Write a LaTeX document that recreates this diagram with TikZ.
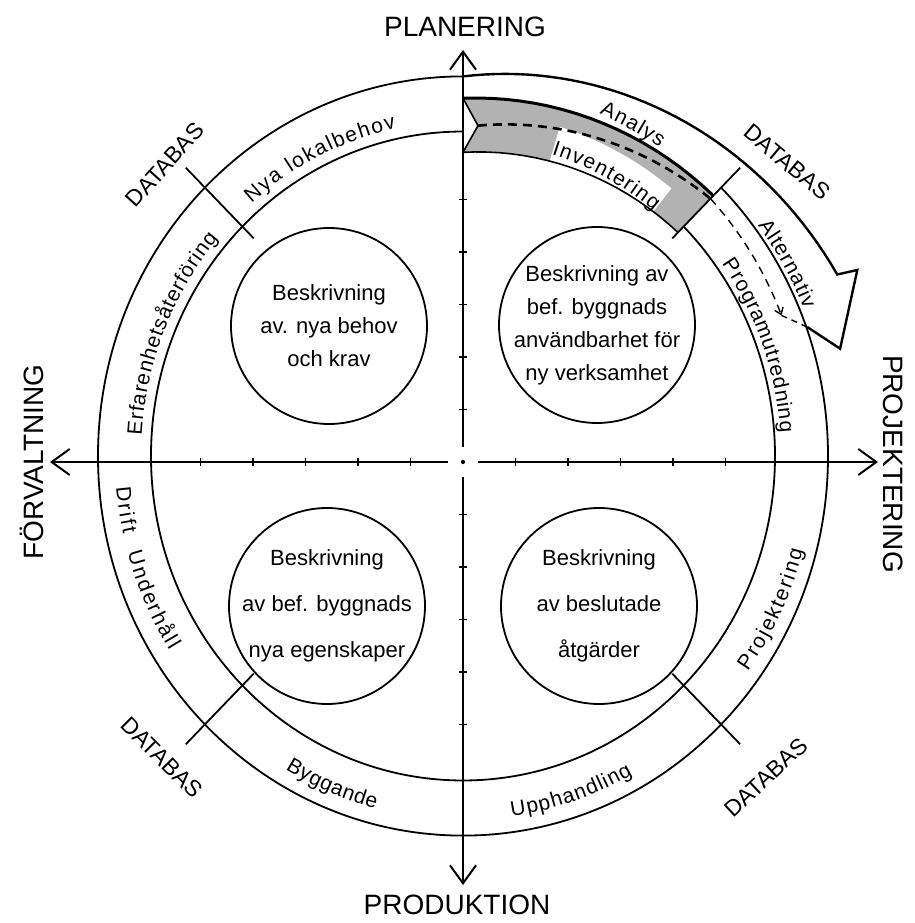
\documentclass[tikz,border=0pt]{standalone}
\usepackage{fontspec}
\setmainfont{Liberation Sans}
\usetikzlibrary{arrows.meta,decorations.text}

\newcommand{\ringfont}{\fontsize{21}{24}\selectfont}
% text along the ring: radius, from, to, text
\newcommand{\ringlabel}[4]{%
  \path[decorate, decoration={text along path, text align={fit to path}, text={|\ringfont|#4}}]
    (#2:#1) arc[start angle=#2, end angle=#3, radius=#1];}

\begin{document}
\begin{tikzpicture}[x=1pt, y=1pt,
    axis/.style={line width=2pt, shorten <=13pt, -{Straight Barb[length=18pt, width=26pt, line width=2pt]}},
    ring/.style={line width=1.8pt},
    blob/.style={draw, circle, line width=1.8pt, minimum size=196pt, inner sep=0pt},
    blobtext/.style={align=center, font=\fontsize{22}{33}\selectfont},
    lowtext/.style={align=center, font=\fontsize{22}{46}\selectfont},
    heading/.style={font=\fontsize{28}{32}\selectfont},
    dbase/.style={font=\fontsize{23}{26}\selectfont}]
  \useasboundingbox (-463,-461) rectangle (451,462);

  % axes
  \node[circle, fill, inner sep=1.5pt] (o) at (0,0) {};
  \coordinate (ntip) at (0,412);
  \coordinate (stip) at (0,-423);
  \coordinate (wtip) at (-413,0);
  \coordinate (etip) at (415,0);
  \draw[axis] (o) -- (ntip);
  \draw[axis] (o) -- (stip);
  \draw[axis] (o) -- (wtip);
  \draw[axis] (o) -- (etip);
  \foreach \k in {1,...,5} {
    \draw[line width=1.6pt] (52.5*\k,-4) -- (52.5*\k,4);
    \draw[line width=1.6pt] (-52.5*\k,-4) -- (-52.5*\k,4);
    \draw[line width=1.6pt] (-4,52.5*\k) -- (4,52.5*\k);
    \draw[line width=1.6pt] (-4,-52.5*\k) -- (4,-52.5*\k);
  }
  \node[heading] (plan) at (2,435) {PLANERING};
  \node[heading] (prod) at (-6,-443) {PRODUKTION};
  \node[heading, rotate=90] (forv) at (-431,0) {FÖRVALTNING};
  \node[heading, rotate=-90] (proj) at (430,-2) {PROJEKTERING};

  \begin{scope}[shift={(0,6)}, yscale=1.04]
    % Analys / Inventering band
    \fill[black!30] plot[domain=90:45, samples=20] (\x:{344+10*(90-\x)/45})
      -- plot[domain=45:90, samples=20] (\x:{292+12*(90-\x)/45}) -- (87.3:318) -- cycle;
    \fill[white] (73:296) arc[start angle=73, end angle=51, radius=296]
      -- (51:331) arc[start angle=51, end angle=73, radius=331] -- cycle;
    \draw[line width=1.6pt] plot[domain=45:90, samples=20] (\x:{292+12*(90-\x)/45}) -- (87.3:318) -- (90:344);
    \draw[line width=3pt] plot[domain=90:45, samples=20] (\x:{344+10*(90-\x)/45});
    \draw[line width=2.6pt, dash pattern=on 9pt off 6pt] (87.3:318) -- plot[domain=86:45, samples=20] (\x:{318+32*(87.3-\x)/42.3});
    \draw[line width=1.4pt, dash pattern=on 8pt off 6pt, -{Straight Barb[length=6pt, width=9pt, line width=1.4pt]}]
      plot[domain=45:23, samples=15] (\x:{350-4*(45-\x)/22});
    \draw[line width=1.4pt, dash pattern=on 6pt off 5pt] (23:346) -- (19.8:366);

    % ring
    \draw[ring] (90:365) arc[start angle=90, end angle=405, radius=365];
    \draw[ring] (90:312) arc[start angle=90, end angle=405, radius=312];
    \draw[line width=2.4pt, line join=miter] plot[domain=90:25, samples=40] (\x:{365+0.738*(90-\x)})
      -- (24.4:433) -- (15.3:391) -- (19.8:366);
    \foreach \a in {45,135,225,315} \draw[ring] (\a:296) -- (\a:392);

    \node[dbase, rotate=48] (dbtl) at (136.8:409) {DATABAS};
    \node[dbase, rotate=-40] (dbtr) at (41.1:430) {DATABAS};
    \node[dbase, rotate=-45] (dbbl) at (223.9:418) {DATABAS};
    \node[dbase, rotate=43] (dbbr) at (314.4:433) {DATABAS};

    \ringlabel{322}{131}{102}{Nya lokalbehov}
    \ringlabel{322}{176.5}{139.5}{Erfarenhetsåterföring}
    \ringlabel{348}{185}{192.5}{Drift}
    \ringlabel{348}{195.5}{212.5}{Underhåll}
    \ringlabel{350}{239.5}{255.5}{Byggande}
    \ringlabel{350}{278}{299}{Upphandling}
    \ringlabel{352}{324}{345}{Projektering}
    \ringlabel{318}{35.5}{4}{Programutredning}
    \ringlabel{369}{37}{22.5}{Alternativ}
    \ringlabel{356}{67.5}{56.5}{Analys}
    \ringlabel{303}{73}{51}{Inventering}
  \end{scope}

  % descriptions
  \node[blob] (tl) at (-134,136) {};
  \node[blob] (tr) at (134,137) {};
  \node[blob] (bl) at (-136,-144) {};
  \node[blob] (br) at (136,-144) {};
  \node[blobtext] (tltext) at (tl) {Beskrivning\\av. nya behov\\och krav};
  \node[blobtext] (trtext) at (tr) {Beskrivning av\\bef. byggnads\\användbarhet för\\ny verksamhet};
  \node[lowtext] (bltext) at (bl) {Beskrivning\\av bef. byggnads\\nya egenskaper};
  \node[lowtext] (brtext) at (br) {Beskrivning\\av beslutade\\åtgärder};
\end{tikzpicture}
\end{document}
